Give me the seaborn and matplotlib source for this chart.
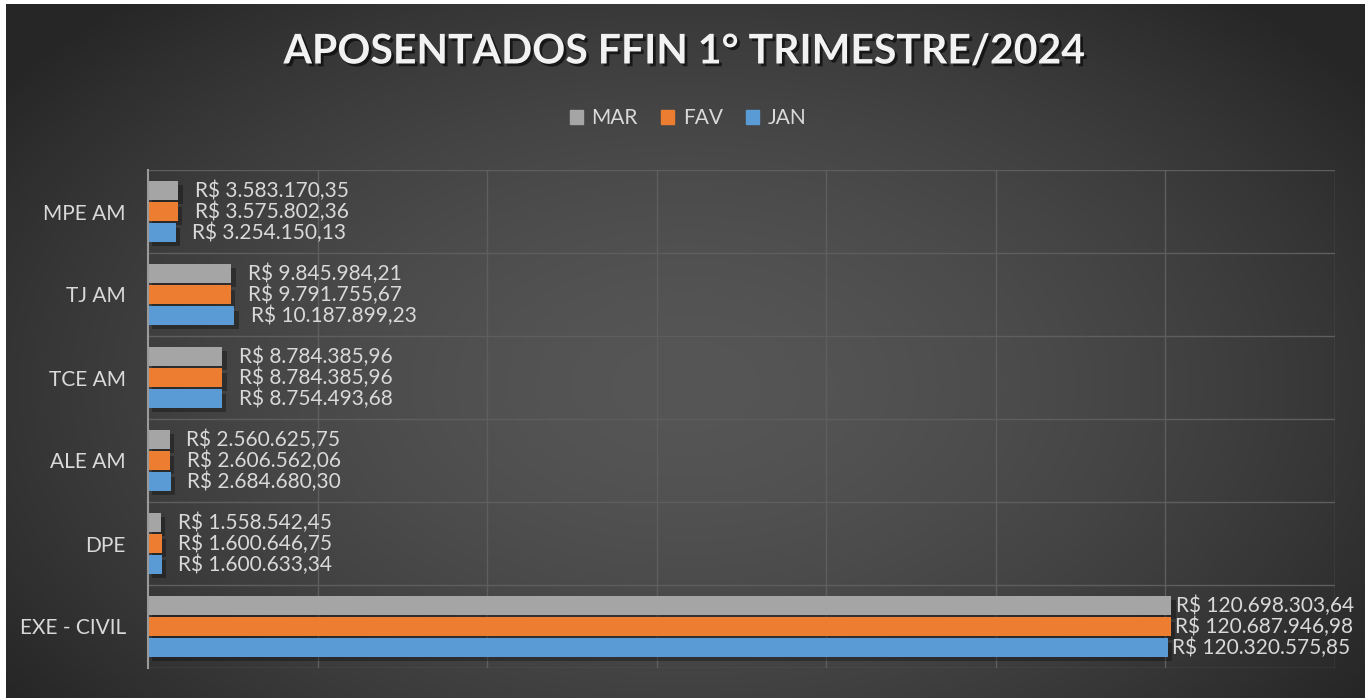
import pandas as pd
import matplotlib.pyplot as plt
import matplotlib.patheffects as pe
import seaborn as sns
import numpy as np

# values (R$)
categories = ["MPE AM", "TJ AM", "TCE AM", "ALE AM", "DPE", "EXE - CIVIL"]
months = ["MAR", "FAV", "JAN"]
mar = [3583170.35, 9845984.21, 8784385.96, 2560625.75, 1558542.45, 120698303.64]
fav = [3575802.36, 9791755.67, 8784385.96, 2606562.06, 1600646.75, 120687946.98]
jan = [3254150.13, 10187899.23, 8754493.68, 2684680.30, 1600633.34, 120320575.85]
colors = ["#a5a5a5", "#ed7d31", "#5b9bd5"]

df = pd.DataFrame({
    "categoria": categories * 3,
    "mes": [m for m in months for _ in categories],
    "valor": mar + fav + jan,
})


def brl(v):
    s = f"{v:,.2f}"
    return "R$ " + s.replace(",", "X").replace(".", ",").replace("X", ".")


sns.set_theme(style="dark")
plt.rcParams["font.family"] = ["Lato", "DejaVu Sans"]
txt = "#d9d9d9"

fig = plt.figure(figsize=(13.65, 6.98), dpi=100)
fig.patch.set_facecolor("white")

# radial gradient background
bg = fig.add_axes([6 / 1365, 0, 1 - 6 / 1365, 1 - 4 / 698])
yy, xx = np.mgrid[0:1:300j, 0:1:600j]
r = np.sqrt(((xx - 0.5) / 0.62) ** 2 + ((yy - 0.45) / 0.75) ** 2)
r = np.clip(r, 0, 1)
c0, c1 = np.array([0x56, 0x56, 0x56]) / 255, np.array([0x26, 0x26, 0x26]) / 255
img = c0[None, None, :] * (1 - r[..., None] ** 1.6) + c1[None, None, :] * r[..., None] ** 1.6
bg.imshow(img, aspect="auto", extent=[0, 1, 0, 1], origin="lower")
bg.set_axis_off()

ax = fig.add_axes([148 / 1365, 1 - 668 / 698, (1335 - 148) / 1365, (668 - 170) / 698])
ax.patch.set_alpha(0)

sns.barplot(data=df, y="categoria", x="valor", hue="mes", order=categories,
            hue_order=months, palette=colors, orient="h", width=0.76, gap=0.13,
            saturation=1, legend=False, linewidth=0, ax=ax)

for bars, vals in zip(ax.containers, [mar, fav, jan]):
    for b, v in zip(bars, vals):
        b.set_path_effects([pe.withSimplePatchShadow(offset=(3, -3), shadow_rgbFace="black", alpha=0.3), pe.Normal()])
        pad = 3 if v > 1e8 else 12
        ax.annotate(brl(v), (b.get_width(), b.get_y() + b.get_height() / 2),
                    xytext=(pad, 0), textcoords="offset points", va="center",
                    ha="left", fontsize=15, color=txt, annotation_clip=False)

ax.set_xlim(0, 140e6)
ax.set_ylim(len(categories) - 0.5, -0.5)
ax.set_xticks(np.arange(0, 140e6 + 1, 20e6))
ax.set_xticklabels([])
ax.grid(False)
for x in np.arange(20e6, 140e6 + 1, 20e6):
    ax.axvline(x, color="#5e5e5e", lw=1, zorder=0)
for y in np.arange(-0.5, len(categories), 1):
    ax.axhline(y, color="#5e5e5e", lw=1, zorder=0)
for s in ["top", "right", "bottom"]:
    ax.spines[s].set_visible(False)
ax.spines["left"].set_color("#9a9a9a")
ax.spines["left"].set_linewidth(1.5)
ax.tick_params(axis="y", length=0, pad=16, labelsize=15, labelcolor=txt)
ax.tick_params(axis="x", length=0)
ax.set_xlabel("")
ax.set_ylabel("")

# title with shadow
fig.text(684 / 1365, 1 - 52 / 698, "APOSENTADOS FFIN 1° TRIMESTRE/2024", ha="center",
         va="center", fontsize=29.5, fontweight="bold", color="#f2f2f2",
         path_effects=[pe.withSimplePatchShadow(offset=(2, -2), shadow_rgbFace="black", alpha=0.6)])

# legend
handles = [plt.Rectangle((0, 0), 1, 1, color=c) for c in colors]
fig.legend(handles, months, loc="center", bbox_to_anchor=(688 / 1365, 1 - 118 / 698),
           ncol=3, frameon=False, fontsize=15, labelcolor=txt, handlelength=0.65,
           handleheight=0.65, handletextpad=0.4, columnspacing=1.1)

plt.savefig("out.png", dpi=100, facecolor=fig.get_facecolor())
plt.close()
